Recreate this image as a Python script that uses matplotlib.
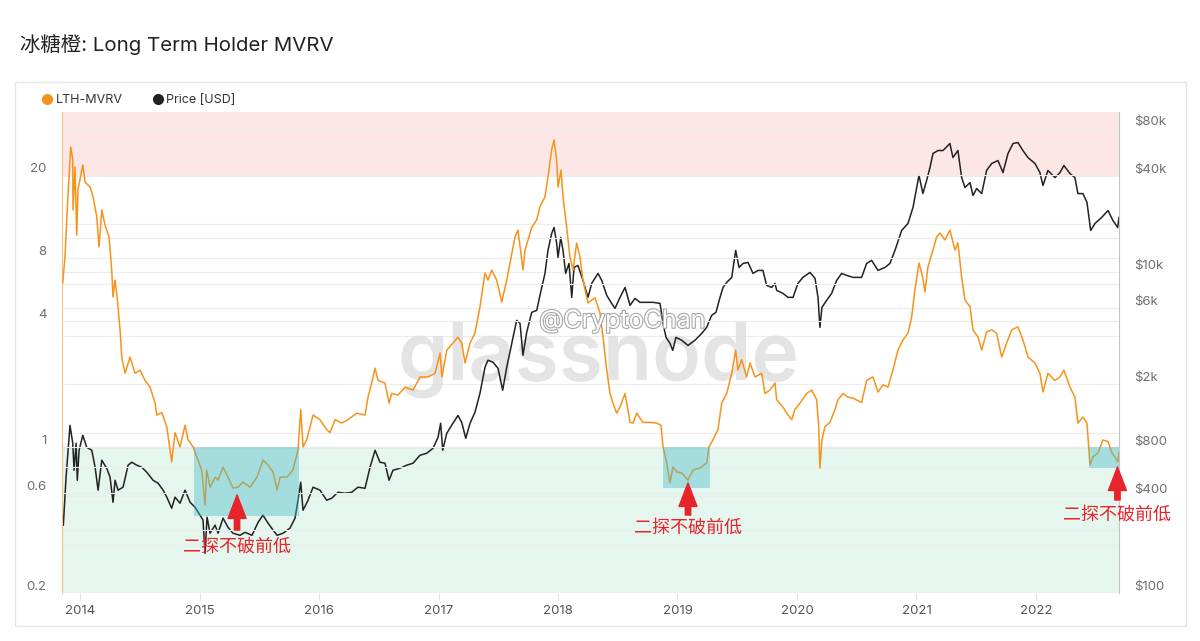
import matplotlib
matplotlib.use('Agg')
import matplotlib.pyplot as plt
import matplotlib.patheffects as pe
from matplotlib.patches import Rectangle
from matplotlib.lines import Line2D
from matplotlib.ticker import NullLocator
from matplotlib.transforms import blended_transform_factory

plt.rcParams['font.family'] = ['Inter', 'Noto Sans CJK SC', 'DejaVu Sans']

# LTH-MVRV (decimal year, value)
lth_year = [
    2013.855, 2013.874, 2013.900, 2013.922, 2013.939, 2013.941, 2013.958, 2013.972, 2013.983, 2014.023,
    2014.042, 2014.084, 2014.109, 2014.140, 2014.159, 2014.182, 2014.209, 2014.243, 2014.265, 2014.276,
    2014.293, 2014.310, 2014.335, 2014.349, 2014.377, 2014.418, 2014.460, 2014.502, 2014.544, 2014.586,
    2014.628, 2014.642, 2014.684, 2014.726, 2014.767, 2014.795, 2014.837, 2014.879, 2014.904, 2014.946,
    2014.987, 2015.018, 2015.046, 2015.060, 2015.088, 2015.130, 2015.155, 2015.197, 2015.238, 2015.280,
    2015.322, 2015.364, 2015.423, 2015.481, 2015.531, 2015.573, 2015.615, 2015.649, 2015.674, 2015.732,
    2015.782, 2015.824, 2015.847, 2015.866, 2015.897, 2015.950, 2016.008, 2016.064, 2016.092, 2016.134,
    2016.190, 2016.243, 2016.315, 2016.385, 2016.410, 2016.441, 2016.469, 2016.494, 2016.552, 2016.586,
    2016.608, 2016.661, 2016.720, 2016.787, 2016.845, 2016.912, 2016.971, 2017.013, 2017.029, 2017.069,
    2017.121, 2017.163, 2017.194, 2017.222, 2017.264, 2017.305, 2017.347, 2017.389, 2017.414, 2017.445,
    2017.487, 2017.529, 2017.571, 2017.598, 2017.640, 2017.665, 2017.707, 2017.724, 2017.780, 2017.822,
    2017.849, 2017.891, 2017.916, 2017.947, 2017.967, 2017.989, 2018.000, 2018.025, 2018.042, 2018.073,
    2018.100, 2018.126, 2018.156, 2018.184, 2018.209, 2018.251, 2018.282, 2018.310, 2018.351, 2018.377,
    2018.408, 2018.435, 2018.460, 2018.491, 2018.519, 2018.561, 2018.603, 2018.628, 2018.659, 2018.711,
    2018.770, 2018.826, 2018.862, 2018.879, 2018.910, 2018.937, 2018.962, 2018.996, 2019.035, 2019.088,
    2019.130, 2019.188, 2019.244, 2019.264, 2019.297, 2019.339, 2019.370, 2019.412, 2019.454, 2019.487,
    2019.506, 2019.537, 2019.579, 2019.607, 2019.649, 2019.705, 2019.732, 2019.774, 2019.816, 2019.830,
    2019.883, 2019.914, 2019.956, 2019.983, 2020.025, 2020.081, 2020.123, 2020.165, 2020.182, 2020.192,
    2020.209, 2020.234, 2020.276, 2020.318, 2020.343, 2020.385, 2020.427, 2020.469, 2020.541, 2020.583,
    2020.636, 2020.678, 2020.720, 2020.762, 2020.803, 2020.845, 2020.887, 2020.929, 2020.960, 2020.987,
    2021.021, 2021.052, 2021.071, 2021.096, 2021.138, 2021.169, 2021.197, 2021.238, 2021.280, 2021.322,
    2021.347, 2021.378, 2021.406, 2021.448, 2021.473, 2021.515, 2021.546, 2021.587, 2021.629, 2021.671,
    2021.713, 2021.755, 2021.797, 2021.849, 2021.891, 2021.933, 2021.992, 2022.033, 2022.059, 2022.100,
    2022.159, 2022.201, 2022.234, 2022.285, 2022.326, 2022.351, 2022.393, 2022.427, 2022.452, 2022.477,
    2022.519, 2022.561, 2022.603, 2022.636, 2022.661, 2022.684, 2022.695,
]
lth_value = [
    6.09, 8.10, 16.4, 27.2, 23.6, 13.6, 21.8, 10.3, 17.0, 22.3,
    18.5, 17.5, 15.7, 12.6, 9.05, 13.6, 11.5, 10.1, 7.02, 5.21,
    6.28, 5.21, 3.63, 2.69, 2.25, 2.69, 2.25, 2.33, 2.08, 1.93,
    1.62, 1.42, 1.46, 1.25, 0.847, 1.17, 1.00, 1.27, 1.08, 1.00,
    0.866, 0.775, 0.527, 0.775, 0.642, 0.717, 0.694, 0.801, 0.717, 0.635,
    0.642, 0.679, 0.642, 0.717, 0.866, 0.819, 0.758, 0.622, 0.717, 0.717,
    0.775, 0.966, 1.51, 1.00, 1.08, 1.42, 1.35, 1.21, 1.17, 1.35,
    1.30, 1.35, 1.45, 1.42, 1.73, 2.02, 2.38, 2.08, 2.02, 1.62,
    1.80, 1.77, 1.93, 1.87, 2.16, 2.16, 2.25, 2.81, 2.16, 2.90,
    3.14, 3.35, 3.14, 2.52, 3.14, 3.50, 4.68, 6.79, 6.28, 7.02,
    6.28, 4.93, 6.28, 7.58, 10.1, 10.9, 7.02, 8.74, 11.2, 12.2,
    14.1, 15.7, 19.5, 26.4, 29.4, 23.6, 17.5, 21.1, 15.7, 11.2,
    8.10, 7.02, 9.45, 8.10, 6.28, 4.88, 5.04, 5.16, 4.38, 3.35,
    2.33, 1.80, 1.62, 1.45, 1.55, 1.80, 1.31, 1.30, 1.45, 1.31,
    1.31, 1.30, 1.27, 1.00, 0.837, 0.672, 0.801, 0.758, 0.750, 0.694,
    0.775, 0.792, 0.837, 1.00, 1.08, 1.21, 1.62, 1.80, 2.25, 2.90,
    2.33, 2.61, 2.16, 2.52, 2.16, 2.25, 1.80, 1.87, 2.02, 1.68,
    1.55, 1.45, 1.35, 1.51, 1.62, 1.80, 1.87, 1.68, 1.25, 0.792,
    1.08, 1.25, 1.31, 1.51, 1.68, 1.80, 1.73, 1.71, 1.63, 2.08,
    2.16, 1.83, 1.98, 1.93, 2.33, 2.90, 3.25, 3.50, 4.19, 5.63,
    7.58, 6.49, 5.51, 7.25, 8.74, 10.1, 10.55, 9.77, 10.9, 8.74,
    9.45, 6.49, 5.04, 4.68, 3.63, 3.35, 2.90, 3.55, 3.63, 3.50,
    2.69, 3.14, 3.63, 3.75, 3.25, 2.69, 2.52, 2.25, 1.83, 2.25,
    2.08, 2.16, 2.33, 1.93, 1.73, 1.30, 1.39, 1.30, 0.819, 0.895,
    0.935, 1.08, 1.06, 0.935, 0.895, 0.847, 0.935,
]

# BTC price in USD (decimal year, value)
price_year = [
    2013.860, 2013.883, 2013.916, 2013.939, 2013.950, 2013.967, 2013.977, 2013.992, 2014.023, 2014.056,
    2014.098, 2014.126, 2014.151, 2014.182, 2014.223, 2014.251, 2014.276, 2014.293, 2014.318, 2014.360,
    2014.402, 2014.433, 2014.474, 2014.516, 2014.558, 2014.611, 2014.653, 2014.695, 2014.726, 2014.767,
    2014.795, 2014.837, 2014.879, 2014.921, 2014.962, 2015.004, 2015.029, 2015.046, 2015.063, 2015.088,
    2015.130, 2015.155, 2015.197, 2015.238, 2015.280, 2015.339, 2015.381, 2015.439, 2015.490, 2015.531,
    2015.573, 2015.615, 2015.649, 2015.699, 2015.757, 2015.799, 2015.824, 2015.847, 2015.866, 2015.908,
    2015.950, 2016.008, 2016.064, 2016.106, 2016.159, 2016.218, 2016.274, 2016.326, 2016.385, 2016.427,
    2016.469, 2016.510, 2016.552, 2016.586, 2016.619, 2016.678, 2016.734, 2016.787, 2016.845, 2016.901,
    2016.954, 2016.996, 2017.018, 2017.035, 2017.069, 2017.121, 2017.163, 2017.194, 2017.228, 2017.264,
    2017.305, 2017.347, 2017.389, 2017.414, 2017.456, 2017.498, 2017.537, 2017.571, 2017.613, 2017.654,
    2017.682, 2017.707, 2017.738, 2017.780, 2017.822, 2017.849, 2017.891, 2017.916, 2017.947, 2017.967,
    2017.989, 2018.000, 2018.023, 2018.042, 2018.064, 2018.092, 2018.115, 2018.134, 2018.167, 2018.209,
    2018.251, 2018.282, 2018.335, 2018.366, 2018.408, 2018.449, 2018.477, 2018.519, 2018.561, 2018.603,
    2018.644, 2018.686, 2018.742, 2018.795, 2018.854, 2018.879, 2018.904, 2018.937, 2018.960, 2018.987,
    2019.035, 2019.088, 2019.146, 2019.203, 2019.244, 2019.286, 2019.322, 2019.356, 2019.381, 2019.412,
    2019.454, 2019.487, 2019.515, 2019.548, 2019.590, 2019.632, 2019.674, 2019.715, 2019.746, 2019.788,
    2019.816, 2019.830, 2019.883, 2019.925, 2019.967, 2020.008, 2020.050, 2020.109, 2020.151, 2020.176,
    2020.192, 2020.209, 2020.248, 2020.290, 2020.332, 2020.374, 2020.416, 2020.469, 2020.541, 2020.583,
    2020.625, 2020.678, 2020.736, 2020.778, 2020.820, 2020.876, 2020.929, 2020.971, 2021.002, 2021.021,
    2021.054, 2021.085, 2021.113, 2021.138, 2021.180, 2021.222, 2021.280, 2021.305, 2021.347, 2021.378,
    2021.406, 2021.448, 2021.473, 2021.504, 2021.546, 2021.587, 2021.629, 2021.682, 2021.724, 2021.766,
    2021.808, 2021.849, 2021.891, 2021.933, 2021.992, 2022.033, 2022.059, 2022.100, 2022.159, 2022.201,
    2022.234, 2022.285, 2022.326, 2022.351, 2022.393, 2022.427, 2022.458, 2022.494, 2022.550, 2022.603,
    2022.644, 2022.684, 2022.695,
]
price_value = [
    265, 528, 1110, 859, 583, 859, 505, 777, 963, 811,
    777, 609, 438, 673, 600, 528, 368, 505, 438, 457,
    627, 654, 627, 609, 567, 505, 484, 438, 396, 338,
    396, 363, 438, 368, 343, 306, 285, 177, 297, 236,
    265, 236, 293, 257, 236, 229, 239, 229, 276, 306,
    273, 247, 229, 236, 254, 293, 379, 491, 328, 379,
    457, 438, 379, 390, 425, 419, 425, 457, 450, 609,
    777, 654, 645, 505, 583, 600, 627, 645, 723, 744,
    799, 936, 1145, 777, 991, 1145, 1280, 1160, 923, 1145,
    1340, 1760, 2560, 2830, 2750, 2520, 1840, 2560, 3610, 5020,
    4810, 3040, 4220, 5630, 5790, 7180, 9850, 13700, 17480, 19050,
    15150, 12390, 16500, 13700, 9850, 11360, 6980, 10730, 11040, 8900,
    6980, 8530, 9850, 8900, 7180, 6400, 5960, 6980, 8050, 6220,
    6880, 6500, 6500, 6500, 6400, 4810, 3930, 3610, 3260, 3930,
    3770, 3500, 3770, 4160, 4540, 5390, 5630, 6980, 8050, 8650,
    9300, 13700, 10730, 11360, 11530, 9850, 10280, 10280, 8290, 8050,
    8530, 7720, 7390, 6980, 6980, 8530, 9300, 9990, 9170, 6980,
    4540, 6050, 6680, 7390, 8900, 9850, 9570, 9300, 9300, 11360,
    11870, 10280, 10730, 11360, 13700, 18250, 20170, 25400, 33800, 40200,
    31000, 37400, 45000, 55100, 57500, 57500, 63600, 52000, 57500, 39000,
    33800, 36300, 30150, 33300, 31000, 43200, 47700, 49800, 41900, 55100,
    63600, 64500, 57500, 52000, 47700, 41900, 34800, 43200, 39000, 41900,
    46400, 41300, 39000, 31000, 31000, 27300, 18250, 20170, 22000, 24300,
    21060, 19050, 22000,
]

years = list(range(2014, 2023))
lth_ticks = [0.2, 0.4, 0.6, 0.8, 1, 4, 6, 8, 10, 20]
lth_labels = ['0.2', '', '0.6', '', '1', '4', '', '8', '', '20']
price_ticks = [100, 200, 400, 800, 1000, 2000, 4000, 6000, 10000, 20000, 40000, 80000]
price_labels = ['$100', '', '$400', '$800', '', '$2k', '', '$6k', '$10k', '', '$40k', '$80k']

# highlighted zones: (start year, end year, lower LTH-MVRV bound), upper bound = 1
zones = [(2014.954, 2015.833, 0.467), (2018.879, 2019.272, 0.636), (2022.444, 2022.70, 0.792)]
# arrows: (year, tip, tail, label y)
notes = [(2015.314, 0.589, 0.400, 0.332), (2019.088, 0.672, 0.472, 0.409),
         (2022.682, 0.801, 0.557, 0.472)]
note_text = '二探不破前低'

ORANGE = '#f7931a'
DARK = '#222222'
RED = '#e5252b'
GRID = '#ececec'
TICK = '#6f6f6f'

fig = plt.figure(figsize=(12, 6.41), dpi=100)
fig.patch.set_facecolor('white')

# panel frame and title
fig.add_artist(Rectangle((15 / 1200, 1 - 626 / 641), 1171 / 1200, 544 / 641,
                         transform=fig.transFigure, fill=False,
                         edgecolor='#e4e4e4', lw=1))
fig.text(20 / 1200, 1 - 45 / 641, '冰糖橙: Long Term Holder MVRV',
         fontsize=14.7, color='#222222', ha='left', va='center')

ax = fig.add_axes([62 / 1200, 1 - 593 / 641, 1057 / 1200, 481 / 641])
axl = ax.twinx()

# price axis (drawn underneath), ticks on the right
ax.set_yscale('log')
ax.set_ylim(100, 100000)
ax.set_xlim(2013.849, 2022.695)
ax.yaxis.tick_right()
ax.set_yticks(price_ticks)
ax.set_yticklabels(price_labels, va='bottom')
ax.yaxis.set_minor_locator(NullLocator())
ax.tick_params(axis='y', length=0, pad=11, labelsize=9.5, labelcolor=TICK)
ax.set_xticks(years)
ax.set_xticklabels([str(y) for y in years])
ax.tick_params(axis='x', length=5, color='#e2e2e2', pad=4, labelsize=9.5, labelcolor='#555555')
ax.set_axisbelow(True)
ax.grid(axis='y', color=GRID, lw=0.8)
for s in ax.spines.values():
    s.set_visible(False)

# LTH-MVRV axis, ticks on the left
axl.set_yscale('log')
axl.set_ylim(0.2, 40)
axl.yaxis.tick_left()
axl.set_yticks(lth_ticks)
axl.set_yticklabels(lth_labels, va='bottom')
axl.yaxis.set_minor_locator(NullLocator())
axl.tick_params(axis='y', length=0, pad=11, labelsize=9.5, labelcolor=TICK)
axl.grid(axis='y', color=GRID, lw=0.8, zorder=0)
axl.spines['top'].set_visible(False)
axl.spines['bottom'].set_visible(False)
axl.spines['left'].set_color('#f6c08a')
axl.spines['right'].set_color('#c4c4c4')

# red / green zones, placed in LTH-MVRV units but drawn below both lines
band_tf = blended_transform_factory(ax.transAxes, axl.transData)
ax.add_patch(Rectangle((0, 20), 1, 20, transform=band_tf, facecolor='#fde6e6',
                       edgecolor='none', zorder=0.1))
ax.add_patch(Rectangle((0, 0.2), 1, 0.8, transform=band_tf, facecolor='#e4f6ee',
                       edgecolor='none', zorder=0.1))

ax.text(0.508, 0.443, 'glassnode', transform=ax.transAxes, fontsize=58,
        fontweight='semibold', color='#e0e0e0', alpha=0.85, ha='center',
        va='baseline', zorder=1)

ax.plot(price_year, price_value, color=DARK, lw=1.1, zorder=2)
axl.axhline(1, color='#8c8c8c', lw=0.9, ls=(0, (1, 2)), zorder=1)
axl.plot(lth_year, lth_value, color=ORANGE, lw=1.1, zorder=3)

for x0, x1, lo in zones:
    axl.add_patch(Rectangle((x0, lo), x1 - x0, 1 - lo, facecolor='#4cbcc8',
                            edgecolor='none', alpha=0.42, zorder=4))

for x, tip, tail, ty in notes:
    axl.annotate('', xy=(x, tip), xytext=(x, tail), annotation_clip=False,
                 arrowprops=dict(arrowstyle='simple,head_length=1.3,head_width=1.0,tail_width=0.3',
                                 color=RED, mutation_scale=13, shrinkA=0, shrinkB=0),
                 zorder=6)
    axl.text(x, ty, note_text, color=RED, fontsize=13, ha='center', va='center',
             clip_on=False, zorder=6)

axl.text(0.53, 0.565, '@CryptoChan', transform=axl.transAxes, fontsize=18,
         color='white', ha='center', va='center', zorder=7,
         path_effects=[pe.withStroke(linewidth=1.6, foreground='#a8a8a8')])

# legend
handles = [Line2D([], [], ls='none', marker='o', markersize=8, markerfacecolor=ORANGE,
                  markeredgecolor='none'),
           Line2D([], [], ls='none', marker='o', markersize=8, markerfacecolor=DARK,
                  markeredgecolor='none')]
leg = fig.legend(handles, ['LTH-MVRV', 'Price [USD]'], loc='center left',
                 bbox_to_anchor=(28 / 1200, 1 - 100 / 641), ncol=2, frameon=False,
                 fontsize=9, handletextpad=0.1, columnspacing=2.2, handlelength=1.2)
for t in leg.get_texts():
    t.set_color('#333333')

fig.savefig('out.png', dpi=100, facecolor='white')
